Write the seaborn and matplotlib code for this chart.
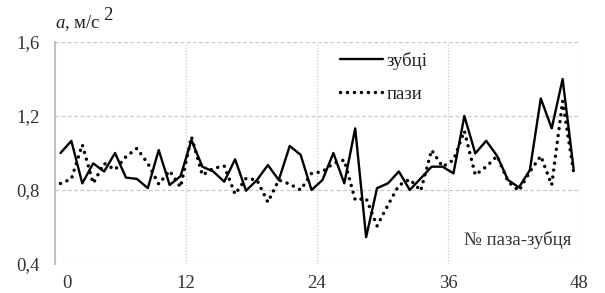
import matplotlib
matplotlib.use("Agg")
import matplotlib.pyplot as plt
import matplotlib.transforms as mtrans
import seaborn as sns
import numpy as np
import pandas as pd

# --- data ---
slot = [i + 0.5 for i in range(48)]
teeth = [1.00, 1.065, 0.836, 0.944, 0.90, 1.00, 0.867, 0.86, 0.81, 1.016,
         0.827, 0.875, 1.07, 0.926, 0.90, 0.845, 0.966, 0.796, 0.854, 0.935,
         0.854, 1.038, 0.99, 0.80, 0.854, 1.00, 0.836, 1.133, 0.545, 0.81,
         0.836, 0.90, 0.80, 0.863, 0.926, 0.926, 0.89, 1.20, 0.998, 1.066,
         0.984, 0.854, 0.814, 0.908, 1.295, 1.133, 1.40, 0.917]
slots_s = [0.835, 0.86, 1.045, 0.836, 0.944, 0.91, 0.98, 1.025, 0.944, 0.832,
           0.904, 0.815, 1.088, 0.88, 0.917, 0.93, 0.777, 0.863, 0.854, 0.734,
           0.854, 0.832, 0.80, 0.89, 0.899, 0.944, 0.962, 0.746, 0.755, 0.606,
           0.719, 0.825, 0.858, 0.796, 1.016, 0.926, 0.962, 1.119, 0.881, 0.926,
           0.984, 0.845, 0.796, 0.899, 0.984, 0.827, 1.28, 0.90]
x_ticks = [0, 12, 24, 36, 48]
y_ticks = [0.4, 0.8, 1.2, 1.6]
y_tick_labels = ["0,4", "0,8", "1,2", "1,6"]
label_teeth = "зубці"
label_slots = "пази"

df = pd.DataFrame({"slot": slot, "teeth": teeth, "slots": slots_s})

sns.set_theme(style="white")
plt.rcParams["font.family"] = ["Liberation Serif", "DejaVu Serif"]
plt.rcParams["mathtext.fontset"] = "custom"
plt.rcParams["mathtext.it"] = "Liberation Serif:italic"
plt.rcParams["mathtext.rm"] = "Liberation Serif"

FS = 13.5
fig = plt.figure(figsize=(6.05, 2.93), dpi=100)
ax = fig.add_axes([55 / 605, 1 - 264 / 293, 524 / 605, 222 / 293])

sns.lineplot(data=df, x="slot", y="teeth", ax=ax, color="black", lw=1.7,
             label=label_teeth)
sns.lineplot(data=df, x="slot", y="slots", ax=ax, color="black", lw=2.5,
             linestyle=(0, (0.01, 2.0)), dash_capstyle="round", label=label_slots)

ax.set_xlim(0, 48)
ax.set_ylim(0.4, 1.6)
ax.set_xticks(x_ticks)
ax.set_xticklabels([str(t) for t in x_ticks])
ax.set_yticks(y_ticks)
ax.set_yticklabels(y_tick_labels)
ax.set_xlabel("")
ax.set_ylabel("")

ax.grid(axis="y", color="#c8c8c8", linestyle=(0, (3, 2)), lw=0.9)
ax.grid(axis="x", color="#c8c8c8", linestyle=(0, (1, 1.5)), lw=0.9)
for s in ["top", "right", "bottom"]:
    ax.spines[s].set_visible(False)
ax.spines["left"].set_color("#c0c0c0")
ax.spines["left"].set_linewidth(1.4)
ax.set_axisbelow(True)

ax.tick_params(axis="y", length=3, color="#c0c0c0", pad=8, labelsize=FS,
               labelcolor="#333333")
ax.tick_params(axis="x", length=0, pad=8, labelsize=FS, labelcolor="#333333")

# first x label sits a little right of the axis line in the reference
first = ax.get_xticklabels()[0]
first.set_transform(first.get_transform() +
                    mtrans.ScaledTranslation(12 / 100, 0, fig.dpi_scale_trans))

leg = ax.legend(loc="upper left", bbox_to_anchor=(0.53, 0.99), frameon=False,
                handlelength=2.3, handletextpad=0.15, labelspacing=0.85,
                fontsize=FS, borderaxespad=0)
for t in leg.get_texts():
    t.set_color("#222222")

ax.text(0.985, 0.108, "№ паза-зубця", transform=ax.transAxes, ha="right",
        va="center", fontsize=FS, color="#333333")

fig.text(55 / 605, 1 - 28 / 293, "$a$, м/с", fontsize=FS, va="baseline",
         ha="left", color="#222222")
fig.text(103 / 605, 1 - 20 / 293, "2", fontsize=FS, va="baseline",
         ha="left", color="#222222")

fig.savefig("out.png", dpi=100)
